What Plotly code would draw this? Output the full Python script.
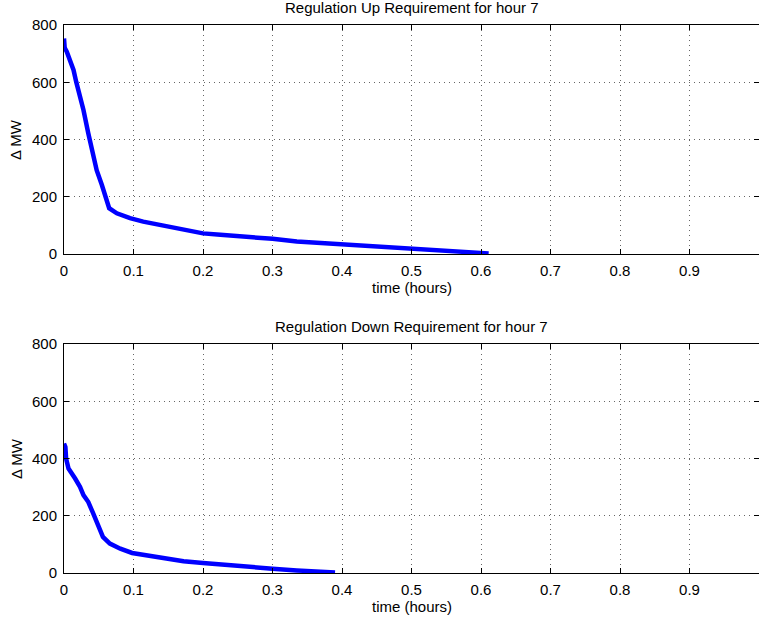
import plotly.graph_objects as go

# ---- data ----
up_time = [0.0, 0.001, 0.004, 0.0137, 0.0175, 0.028, 0.035, 0.042, 0.047, 0.0545, 0.059,
           0.065, 0.076, 0.095, 0.114, 0.138, 0.167, 0.2, 0.225, 0.282, 0.3, 0.335,
           0.393, 0.4, 0.45, 0.5, 0.556, 0.611]
up_mw = [753, 720, 707, 643, 602, 503, 421, 352, 293, 241, 200,
         160, 142, 125, 113, 101, 87, 72, 67, 58, 53, 44,
         35, 32, 23, 16, 8, 2]

dn_time = [0.0, 0.002, 0.003, 0.0065, 0.016, 0.023, 0.028, 0.035, 0.042, 0.05, 0.056,
           0.066, 0.081, 0.098, 0.119, 0.138, 0.153, 0.172, 0.2, 0.249, 0.3, 0.335, 0.39]
dn_mw = [452, 440, 400, 365, 330, 301, 272, 248, 208, 161, 126,
         103, 85, 70, 62, 54, 47, 41, 35, 24, 15, 9, 2]

x_ticks = [0, 0.1, 0.2, 0.3, 0.4, 0.5, 0.6, 0.7, 0.8, 0.9, 1]
x_tick_labels = ["0", "0.1", "0.2", "0.3", "0.4", "0.5", "0.6", "0.7", "0.8", "0.9", "1"]
y_ticks = [0, 200, 400, 600, 800]
y_tick_labels = ["0", "200", "400", "600", "800"]

titles = ["Regulation Up Requirement for hour 7", "Regulation Down Requirement for hour 7"]
x_title = "time (hours)"
y_title = "\u0394 MW"

W, H = 759, 622
FONT = dict(family="Liberation Sans, Arial, Helvetica, sans-serif", size=15, color="black")
BLUE = "#0000ff"

fig = go.Figure()
fig.add_trace(go.Scatter(x=up_time, y=up_mw, mode="lines",
                         line=dict(color=BLUE, width=4.5), xaxis="x", yaxis="y",
                         showlegend=False))
fig.add_trace(go.Scatter(x=dn_time, y=dn_mw, mode="lines",
                         line=dict(color=BLUE, width=4.5), xaxis="x2", yaxis="y2",
                         showlegend=False))

def px_y(p):
    return (H - p) / H

top_dom = [px_y(254), px_y(25)]
bot_dom = [px_y(573), px_y(344)]
x_dom = [64 / W, 1.0]

axis_common = dict(showline=True, linecolor="black", linewidth=1, mirror="ticks",
                   ticks="inside", ticklen=5, tickcolor="black", tickwidth=1,
                   showgrid=True, gridcolor="#666666", griddash="1px,4px", gridwidth=1,
                   zeroline=False, tickfont=FONT, automargin=False)

xa = dict(axis_common, range=[0, 1], tickvals=x_ticks, ticktext=x_tick_labels,
          domain=x_dom, ticklabelstandoff=3)
ya = dict(axis_common, range=[0, 800], tickvals=y_ticks, ticktext=y_tick_labels,
          ticklabelstandoff=3)

fig.update_layout(
    width=W, height=H,
    margin=dict(l=0, r=0, t=0, b=0),
    paper_bgcolor="white", plot_bgcolor="white",
    font=FONT,
    xaxis=dict(xa, anchor="y"),
    yaxis=dict(ya, domain=top_dom, anchor="x"),
    xaxis2=dict(xa, anchor="y2"),
    yaxis2=dict(ya, domain=bot_dom, anchor="x2"),
)

ann = []
cx = (64 + W) / 2 / W
for title_txt, ty, xl_y, yl_y in [(titles[0], 8, 287, 140), (titles[1], 326, 606, 459)]:
    ann.append(dict(text=title_txt, x=cx, y=px_y(ty), xref="paper", yref="paper",
                    xanchor="center", yanchor="middle", showarrow=False, font=FONT))
    ann.append(dict(text=x_title, x=cx, y=px_y(xl_y), xref="paper", yref="paper",
                    xanchor="center", yanchor="middle", showarrow=False, font=FONT))
    ann.append(dict(text=y_title, x=16 / W, y=px_y(yl_y), xref="paper", yref="paper",
                    xanchor="center", yanchor="middle", showarrow=False, textangle=-90,
                    font=FONT))
fig.update_layout(annotations=ann)

fig.write_html("out.html",
               config={"displayModeBar": False},
               post_script="document.body.style.margin='0';document.body.style.overflow='hidden';")
